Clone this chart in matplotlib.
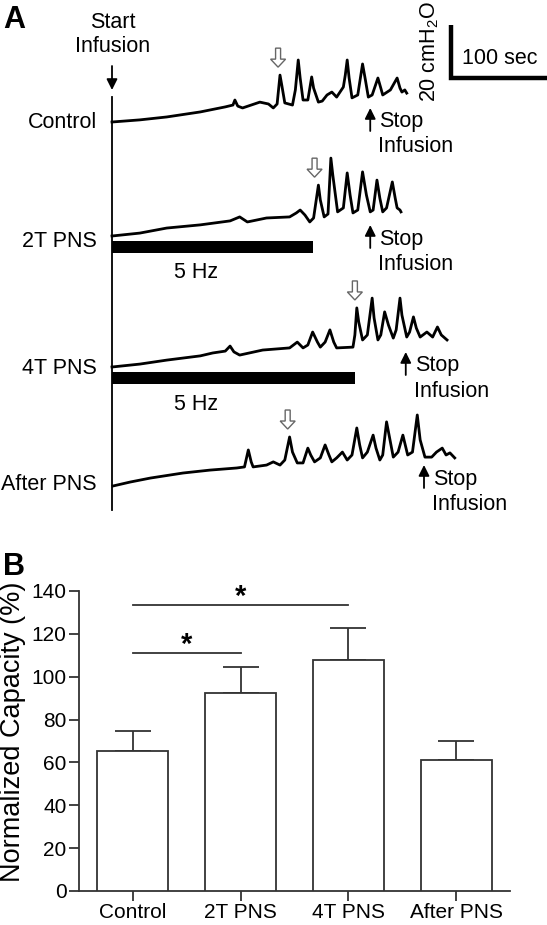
import matplotlib
matplotlib.use("Agg")
import matplotlib.pyplot as plt
from matplotlib.patches import FancyArrow
import numpy as np

plt.rcParams["font.family"] = ["Liberation Sans", "DejaVu Sans"]
plt.rcParams["mathtext.fontset"] = "custom"
plt.rcParams["mathtext.rm"] = "Liberation Sans"
plt.rcParams["mathtext.it"] = "Liberation Sans:italic"

# ---------------- Panel A data: time (s) / pressure (cmH2O above start)
ctrl_t = [0, 29, 57, 92, 118, 126, 128, 131, 136, 154, 163, 168, 172, 175, 177, 180,
          188, 191, 194, 196, 199, 204, 208, 210, 215, 219, 224, 229, 234, 241, 243,
          245, 247, 250, 256, 261, 264, 267, 271, 277, 280, 282, 290, 297, 300, 302,
          305, 307]
ctrl_p = [0, 0.8, 1.9, 3.8, 5.7, 6.4, 8.3, 6.0, 5.3, 7.5, 6.8, 5.3, 6.8, 17.7, 13.6, 7.2,
          6.4, 12.1, 23.4, 16.6, 8.3, 8.3, 17.0, 12.8, 7.5, 7.9, 10.2, 11.3, 9.4, 13.2, 17.7,
          23.4, 16.6, 9.1, 10.2, 21.9, 15.8, 9.4, 10.2, 16.6, 12.8, 10.2, 12.1, 16.6, 12.8, 11.3,
          12.1, 10.9]

pns2_t = [0, 29, 57, 92, 123, 133, 141, 161, 185, 192, 196, 201, 206, 210, 215, 217,
          221, 225, 228, 230, 235, 241, 245, 248, 251, 256, 261, 265, 269, 272, 276,
          279, 282, 286, 292, 295, 297, 300, 301]
pns2_p = [0, 1.1, 3.0, 4.2, 5.7, 7.2, 5.3, 6.8, 7.2, 8.7, 9.8, 7.9, 5.3, 6.8, 19.2, 13.6,
          7.2, 8.3, 29.4, 23.0, 9.1, 10.6, 23.8, 15.5, 8.7, 9.8, 24.2, 15.5, 9.1, 9.8, 21.1,
          14.3, 9.1, 10.6, 20.4, 14.3, 10.6, 9.8, 9.1]

pns4_t = [0, 29, 57, 92, 105, 118, 123, 127, 133, 157, 185, 193, 199, 204, 209, 214,
          217, 222, 227, 231, 234, 251, 253, 255, 257, 261, 266, 271, 273, 277, 280,
          284, 288, 293, 296, 300, 302, 307, 310, 314, 317, 321, 328, 334, 339, 343, 349]
pns4_p = [0, 1.1, 2.6, 4.2, 5.3, 6.0, 7.9, 5.7, 4.5, 6.4, 7.2, 9.4, 7.2, 8.3, 13.2, 9.4,
          7.5, 9.4, 14.0, 9.4, 7.2, 7.5, 12.1, 22.3, 17.0, 10.2, 12.1, 26.0, 18.5, 10.2, 12.1,
          20.8, 15.8, 10.9, 14.0, 26.0, 19.6, 11.3, 13.2, 18.9, 14.7, 11.3, 13.2, 11.3, 15.1,
          12.1, 10.2]

after_t = [1, 19, 40, 74, 102, 130, 138, 142, 145, 147, 161, 168, 175, 180, 185, 188,
           193, 199, 204, 207, 211, 217, 222, 226, 229, 234, 240, 245, 250, 255, 258,
           261, 266, 272, 275, 279, 282, 286, 290, 293, 298, 303, 306, 308, 313, 318,
           321, 326, 333, 338, 344, 348, 352, 357]
after_p = [0, 1.5, 3.0, 4.9, 6.0, 6.8, 7.2, 13.6, 9.1, 7.2, 7.9, 9.1, 7.9, 9.8, 18.5, 12.8,
           8.7, 8.7, 14.3, 11.7, 9.1, 10.6, 15.5, 11.7, 9.1, 10.6, 12.8, 9.8, 11.7, 21.9, 15.5,
           10.6, 12.8, 19.2, 14.3, 9.8, 11.7, 24.2, 16.6, 10.9, 12.8, 19.2, 14.7, 11.7, 12.8, 26.8,
           17.4, 10.9, 10.9, 12.8, 14.3, 11.7, 12.5, 10.6]

trace_names = ["Control", "2T PNS", "4T PNS", "After PNS"]
trace_t = [ctrl_t, pns2_t, pns4_t, after_t]
trace_p = [ctrl_p, pns2_p, pns4_p, after_p]
first_void_t = [173, 211, 253, 183]      # hollow arrows
stop_t = [269, 269, 306, 325]            # stop infusion
stim_dur = [0, 209, 253, 0]              # 5 Hz stimulation length (s)

# ---------------- Panel B data
groups = ["Control", "2T PNS", "4T PNS", "After PNS"]
cap_mean = [65.3, 92.5, 107.8, 61.1]
cap_sem = [9.2, 12.0, 14.8, 8.9]
sig_pairs = [(0, 1), (0, 2)]
sig_y = [111.3, 133.3]

# ---------------- layout (pixels)
W, H = 547, 925
PX_S = 0.96      # px per second
PX_CM = 2.65     # px per cmH2O
T0 = 112         # x of start infusion
A_BOT = 520      # bottom of panel A
base_px = [122, 236, 367, 486]
label_px = [127.5, 247.5, 373.5, 489.5]
stop_tip_px = [108, 225, 352, 465]
hz_px = [None, 277.5, 410.5, None]
FS = 15.5


def fx(px):
    return px / W


def fy(py):
    return 1 - py / H


def dy(py):
    return (A_BOT - py) / PX_CM


fig = plt.figure(figsize=(W / 100, H / 100), dpi=100)

ax = fig.add_axes([0, fy(A_BOT), 1, A_BOT / H])
ax.set_xlim(-T0 / PX_S, (W - T0) / PX_S)
ax.set_ylim(0, A_BOT / PX_CM)
ax.axis("off")

# start infusion line + arrow
ax.plot([0, 0], [dy(510), dy(97)], color="black", lw=1.3)
ax.annotate("", xy=(0, dy(90)), xytext=(0, dy(66)),
            arrowprops=dict(arrowstyle="-|>", color="black", lw=1.3,
                            mutation_scale=16, shrinkA=0, shrinkB=0))
fig.text(fx(113), fy(27.5), "Start", ha="center", va="baseline", fontsize=FS)
fig.text(fx(113), fy(52.5), "Infusion", ha="center", va="baseline", fontsize=FS)
fig.text(fx(3), fy(27.5), "A", ha="left", va="baseline", fontsize=22, fontweight="bold")

for i in range(4):
    off = dy(base_px[i])
    t = np.array(trace_t[i])
    p = np.array(trace_p[i])
    ax.plot(t, p + off, color="black", lw=2.0)
    fig.text(fx(97), fy(label_px[i]), trace_names[i], ha="right", va="baseline", fontsize=FS)

    # first contraction (hollow arrow)
    near = np.abs(t - first_void_t[i]) <= 5
    tip = off + p[near].max() + 3
    ax.add_patch(FancyArrow(first_void_t[i], tip + 19 / PX_CM, 0, -19 / PX_CM,
                            width=5 / PX_S, head_width=15 / PX_S, head_length=8 / PX_CM,
                            length_includes_head=True, facecolor="white",
                            edgecolor="#666666", lw=1.0))

    # stop infusion
    sx = T0 + stop_t[i] * PX_S
    ax.annotate("", xy=(stop_t[i], dy(stop_tip_px[i])), xytext=(stop_t[i], dy(stop_tip_px[i] + 23)),
                arrowprops=dict(arrowstyle="-|>", color="black", lw=1.3,
                                mutation_scale=16, shrinkA=0, shrinkB=0))
    fig.text(fx(sx + 9), fy(stop_tip_px[i] + 19.5), "Stop", ha="left", va="baseline", fontsize=FS)
    fig.text(fx(sx + 8), fy(stop_tip_px[i] + 44.5), "Infusion", ha="left", va="baseline", fontsize=FS)

    # stimulation bar
    if stim_dur[i] > 0:
        ax.barh(off - 4, stim_dur[i], left=0, height=12 / PX_CM, color="black")
        fig.text(fx(196), fy(hz_px[i]), "5 Hz", ha="center", va="baseline", fontsize=FS)

# scale bar 100 s x 20 cmH2O
sb_t = (451 - T0) / PX_S
sb_y = dy(78)
ax.plot([sb_t, sb_t, sb_t + 100], [sb_y + 20, sb_y, sb_y], color="black", lw=3.2,
        solid_joinstyle="miter", solid_capstyle="butt", clip_on=False)
fig.text(fx(462), fy(64.5), "100 sec", ha="left", va="baseline", fontsize=FS)
fig.text(fx(430), fy(52), r"20 cmH$_2$O", ha="center", va="center", rotation=90, fontsize=FS)

# ---------------- Panel B
GRAY = "#333333"
bx = fig.add_axes([fx(79), fy(891), 431 / W, 300 / H])
x = np.arange(len(groups))
bx.bar(x, cap_mean, width=0.66, color="white", edgecolor=GRAY, lw=1.3, zorder=3)
bx.errorbar(x, cap_mean, yerr=[np.zeros(len(x)), cap_sem], fmt="none", ecolor=GRAY,
            elinewidth=1.3, capsize=13, capthick=1.3, zorder=2)
for (a, b), h in zip(sig_pairs, sig_y):
    bx.plot([a, b], [h, h], color=GRAY, lw=1.3)
    bx.text((a + b) / 2, h, "*", ha="center", va="baseline", fontsize=21, fontweight="bold")

bx.set_xlim(-0.5, 3.5)
bx.set_ylim(0, 140)
bx.set_yticks(range(0, 141, 20))
bx.set_xticks(x)
bx.set_xticklabels(groups)
for s in ["top", "right"]:
    bx.spines[s].set_visible(False)
for s in ["left", "bottom"]:
    bx.spines[s].set_color(GRAY)
    bx.spines[s].set_linewidth(1.3)
bx.tick_params(length=7, width=1.3, color=GRAY, labelsize=15, pad=2)
bx.set_ylabel("Normalized Capacity (%)", fontsize=19.5, labelpad=4, y=0.53)
fig.text(fx(3), fy(575), "B", ha="left", va="baseline", fontsize=22, fontweight="bold")

fig.savefig("out.png", dpi=100)
